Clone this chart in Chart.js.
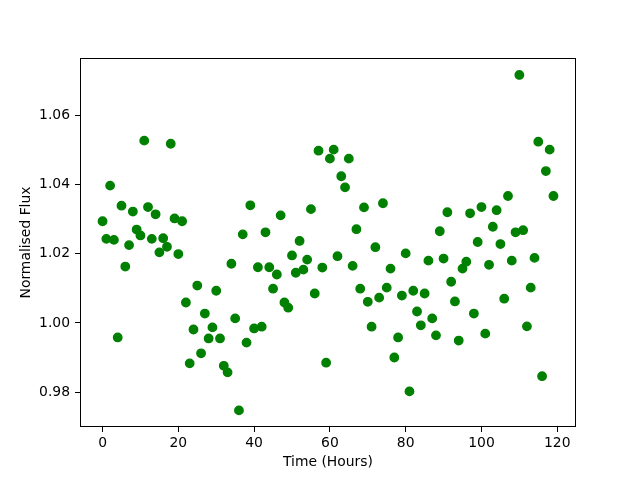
<!DOCTYPE html>
<html>
<head>
<meta charset="utf-8">
<title>Normalised Flux</title>
<script src="https://cdn.jsdelivr.net/npm/chart.js@4.4.1/dist/chart.umd.min.js"></script>
<style>
    body { margin: 0; background: #fff; }
    canvas { display: block; }
</style>
</head>
<body>
<canvas id="fluxChart" width="640" height="480"></canvas>
<script>
// time of each reading (hours)
var hours = [
    0, 1, 2, 3, 4, 5, 6, 7, 8, 9, 10, 11, 12, 13, 14, 15, 16, 17, 18, 19,
    20, 21, 22, 23, 24, 25, 26, 27, 28, 29, 30, 31, 32, 33, 34, 35, 36, 37, 38, 39,
    40, 41, 42, 43, 44, 45, 46, 47, 48, 49, 50, 51, 52, 53, 54, 55, 56, 57, 58, 59,
    60, 61, 62, 63, 64, 65, 66, 67, 68, 69, 70, 71, 72, 73, 74, 75, 76, 77, 78, 79,
    80, 81, 82, 83, 84, 85, 86, 87, 88, 89, 90, 91, 92, 93, 94, 95, 96, 97, 98, 99,
    100, 101, 102, 103, 104, 105, 106, 107, 108, 109, 110, 111, 112, 113, 114, 115, 116, 117, 118, 119
];

// normalised flux
var flux = [
    1.0294, 1.0243, 1.0397, 1.0240, 0.9958, 1.0339, 1.0163, 1.0225, 1.0322, 1.0270,
    1.0253, 1.0527, 1.0335, 1.0243, 1.0314, 1.0204, 1.0245, 1.0220, 1.0518, 1.0302,
    1.0199, 1.0294, 1.0059, 0.9883, 0.9981, 1.0108, 0.9912, 1.0027, 0.9955, 0.9987,
    1.0093, 0.9955, 0.9876, 0.9857, 1.0171, 1.0013, 0.9747, 1.0256, 0.9943, 1.0340,
    0.9984, 1.0161, 0.9989, 1.0262, 1.0161, 1.0099, 1.0140, 1.0311, 1.0059, 1.0044,
    1.0195, 1.0145, 1.0237, 1.0154, 1.0183, 1.0329, 1.0085, 1.0498, 1.0160, 0.9885,
    1.0475, 1.0501, 1.0193, 1.0424, 1.0392, 1.0475, 1.0165, 1.0271, 1.0099, 1.0334,
    1.0061, 0.9989, 1.0219, 1.0073, 1.0346, 1.0102, 1.0157, 0.9900, 0.9958, 1.0079,
    1.0201, 0.9802, 1.0093, 1.0033, 0.9993, 1.0085, 1.0180, 1.0013, 0.9964, 1.0265,
    1.0186, 1.0320, 1.0119, 1.0062, 0.9949, 1.0157, 1.0177, 1.0317, 1.0027, 1.0234,
    1.0335, 0.9969, 1.0168, 1.0278, 1.0326, 1.0228, 1.0070, 1.0367, 1.0180, 1.0262,
    1.0717, 1.0268, 0.9990, 1.0102, 1.0188, 1.0524, 0.9846, 1.0439, 1.0501, 1.0367
];

var xTicks = [0, 20, 40, 60, 80, 100, 120];
var yTicks = [0.98, 1.00, 1.02, 1.04, 1.06];
var xRange = [-5.95, 124.95];
var yRange = [0.9699, 1.0766];

var points = hours.map(function (h, i) {
    return { x: h, y: flux[i] };
});

// black box round the plot area, like the axes spines
var frame = {
    id: 'frame',
    afterDatasetsDraw: function (chart) {
        var a = chart.chartArea;
        var ctx = chart.ctx;
        ctx.save();
        ctx.strokeStyle = '#000';
        ctx.lineWidth = 1;
        ctx.strokeRect(a.left + 0.5, a.top + 0.5, a.right - a.left - 1, a.bottom - a.top - 1);
        ctx.restore();
    }
};

Chart.defaults.font.family = '"DejaVu Sans", sans-serif';
Chart.defaults.font.size = 13.9;
Chart.defaults.color = '#000';

var ctx = document.getElementById('fluxChart').getContext('2d');
var fluxChart = new Chart(ctx, {
    type: 'scatter',
    data: {
        datasets: [{
            label: 'Flux',
            data: points,
            backgroundColor: '#008000',
            borderColor: '#008000',
            borderWidth: 1.4,
            pointRadius: 4.2,
            pointHoverRadius: 4.2
        }]
    },
    options: {
        responsive: false,
        animation: false,
        layout: { padding: { top: 58, right: 64, left: 0, bottom: 0 } },
        plugins: {
            legend: { display: false },
            tooltip: { enabled: false }
        },
        scales: {
            x: {
                type: 'linear',
                min: xRange[0],
                max: xRange[1],
                afterBuildTicks: function (scale) {
                    scale.ticks = xTicks.map(function (v) { return { value: v }; });
                },
                afterFit: function (scale) { scale.height = 53; },
                border: { display: false },
                grid: { drawOnChartArea: false, drawTicks: true, tickLength: 5, tickColor: '#000', tickWidth: 1 },
                ticks: { padding: 3, maxRotation: 0, callback: function (v) { return v; } },
                title: { display: true, text: 'Time (Hours)', padding: { top: 0, bottom: 9 } }
            },
            y: {
                type: 'linear',
                min: yRange[0],
                max: yRange[1],
                afterBuildTicks: function (scale) {
                    scale.ticks = yTicks.map(function (v) { return { value: v }; });
                },
                afterFit: function (scale) { scale.width = 80; },
                border: { display: false },
                grid: { drawOnChartArea: false, drawTicks: true, tickLength: 5, tickColor: '#000', tickWidth: 1 },
                ticks: { padding: 5, callback: function (v) { return v.toFixed(2); } },
                title: { display: true, text: 'Normalised Flux', padding: { top: 18, bottom: 0 } }
            }
        }
    },
    plugins: [frame]
});
</script>
</body>
</html>
